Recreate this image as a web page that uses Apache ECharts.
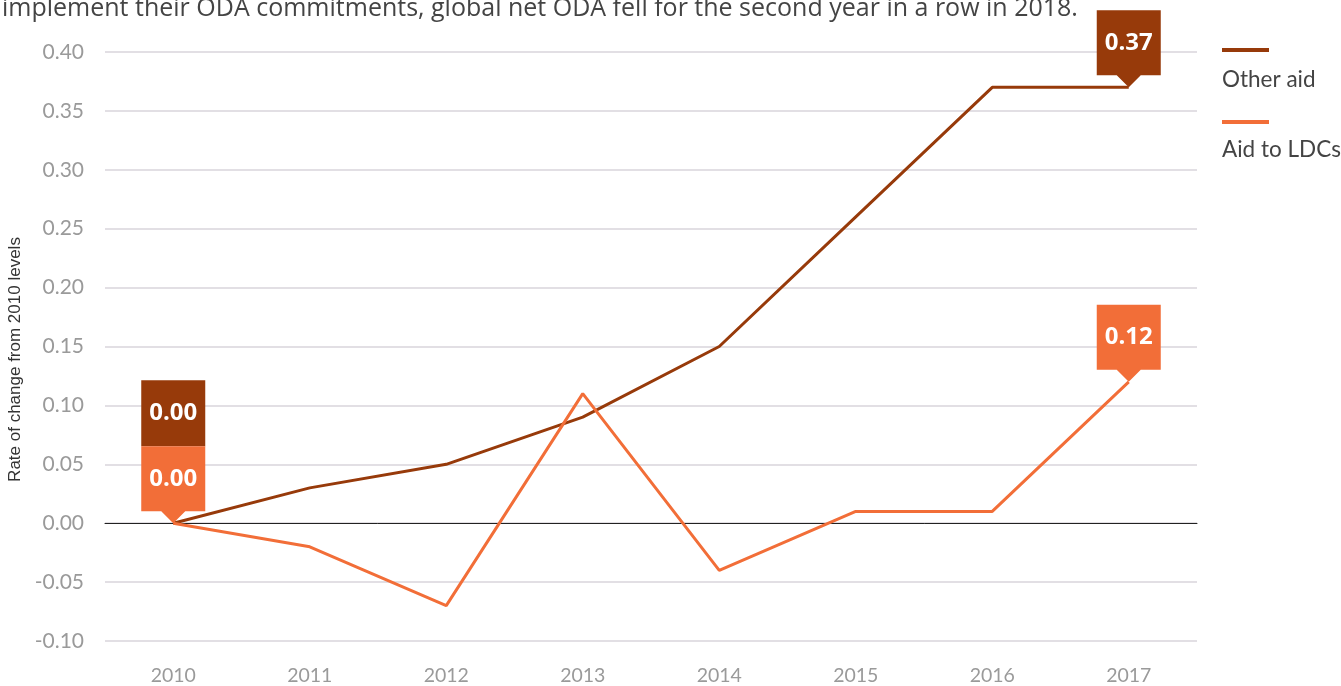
<!DOCTYPE html>
<html>
<head>
<meta charset="utf-8">
<script src="https://cdn.jsdelivr.net/npm/echarts@6/dist/echarts.min.js"></script>
<style>html,body{margin:0;padding:0;background:#fff;}#c{width:1341px;height:686px;}</style>
</head>
<body>
<div id="c"></div>
<script>
const years = ['2010','2011','2012','2013','2014','2015','2016','2017'];
const otherAid = [0.00, 0.03, 0.05, 0.09, 0.15, 0.26, 0.37, 0.37];
const aidToLDCs = [0.00, -0.02, -0.07, 0.11, -0.04, 0.01, 0.01, 0.12];
const yTicks = { min: -0.10, max: 0.40, interval: 0.05 };
const titleText = 'implement their ODA commitments, global net ODA fell for the second year in a row in 2018.';
const seriesNames = ['Other aid', 'Aid to LDCs'];

const DARK = '#973a0a';
const ORANGE = '#f26e38';
const PIN = 'path://M0,0H64V65H44L32,77L20,65H0Z';
const BOX = 'path://M0,0H64V66H0Z';

const labelStyle = {
  show: true, position: 'inside', color: '#fff', fontSize: 24, fontWeight: 'bold',
  fontFamily: 'Open Sans', formatter: p => Number(p.value).toFixed(2)
};
function pin(i, arr) {
  return { coord: [years[i], arr[i]], value: arr[i], symbol: PIN, symbolSize: [64, 77],
    symbolOffset: [0, '-50%'], label: Object.assign({}, labelStyle, { offset: [0, -6] }) };
}

const chart = echarts.init(document.getElementById('c'));
chart.setOption({
  animation: false,
  title: { text: titleText, left: -3, top: -9,
    textStyle: { fontFamily: 'Open Sans', fontSize: 25, fontWeight: 'normal', color: '#444' } },
  grid: { left: 105, right: 144, top: 52, bottom: 45, containLabel: false, outerBoundsMode: 'none' },
  xAxis: {
    type: 'category', data: years, boundaryGap: true,
    axisLine: { show: true, onZero: true, lineStyle: { color: '#222', width: 1 } },
    axisTick: { show: false },
    axisLabel: { margin: 25, fontSize: 19.5, color: '#9a9a9a', fontFamily: 'Lato' },
    splitLine: { show: false }
  },
  yAxis: {
    type: 'value', min: yTicks.min, max: yTicks.max, interval: yTicks.interval,
    name: 'Rate of change from 2010 levels', nameLocation: 'middle', nameGap: 78,
    nameTextStyle: { fontSize: 17, color: '#333', fontFamily: 'Liberation Sans', padding: [0, 26, 0, 0] },
    axisLine: { show: false }, axisTick: { show: false },
    axisLabel: { margin: 21, fontSize: 21, color: '#9a9a9a', fontFamily: 'Lato',
      formatter: v => v.toFixed(2) },
    splitLine: { show: true, lineStyle: { color: '#d8d5db', width: 1.5 } }
  },
  series: [
    {
      name: seriesNames[0], type: 'line', data: otherAid, symbol: 'none', z: 3,
      lineStyle: { color: DARK, width: 3 }, itemStyle: { color: DARK },
      markPoint: {
        z: 5,
        itemStyle: { color: DARK },
        data: [
          pin(7, otherAid),
          { coord: [years[0], otherAid[0]], value: otherAid[0], symbol: BOX, symbolSize: [64, 66],
            symbolOffset: [0, -110], label: labelStyle }
        ]
      }
    },
    {
      name: seriesNames[1], type: 'line', data: aidToLDCs, symbol: 'none', z: 4,
      lineStyle: { color: ORANGE, width: 3 }, itemStyle: { color: ORANGE },
      markPoint: {
        z: 6,
        itemStyle: { color: ORANGE },
        data: [ pin(0, aidToLDCs), pin(7, aidToLDCs) ]
      }
    }
  ],
  graphic: [
    { type: 'rect', shape: { x: 1222, y: 48, width: 47, height: 4 }, style: { fill: DARK } },
    { type: 'text', x: 1222, y: 80, style: { text: seriesNames[0], fill: '#444', fontSize: 22.5,
      fontFamily: 'Lato', textVerticalAlign: 'middle' } },
    { type: 'rect', shape: { x: 1222, y: 120, width: 47, height: 4 }, style: { fill: ORANGE } },
    { type: 'text', x: 1222, y: 150, style: { text: seriesNames[1], fill: '#444', fontSize: 22.5,
      fontFamily: 'Lato', textVerticalAlign: 'middle' } }
  ]
});
</script>
</body>
</html>
